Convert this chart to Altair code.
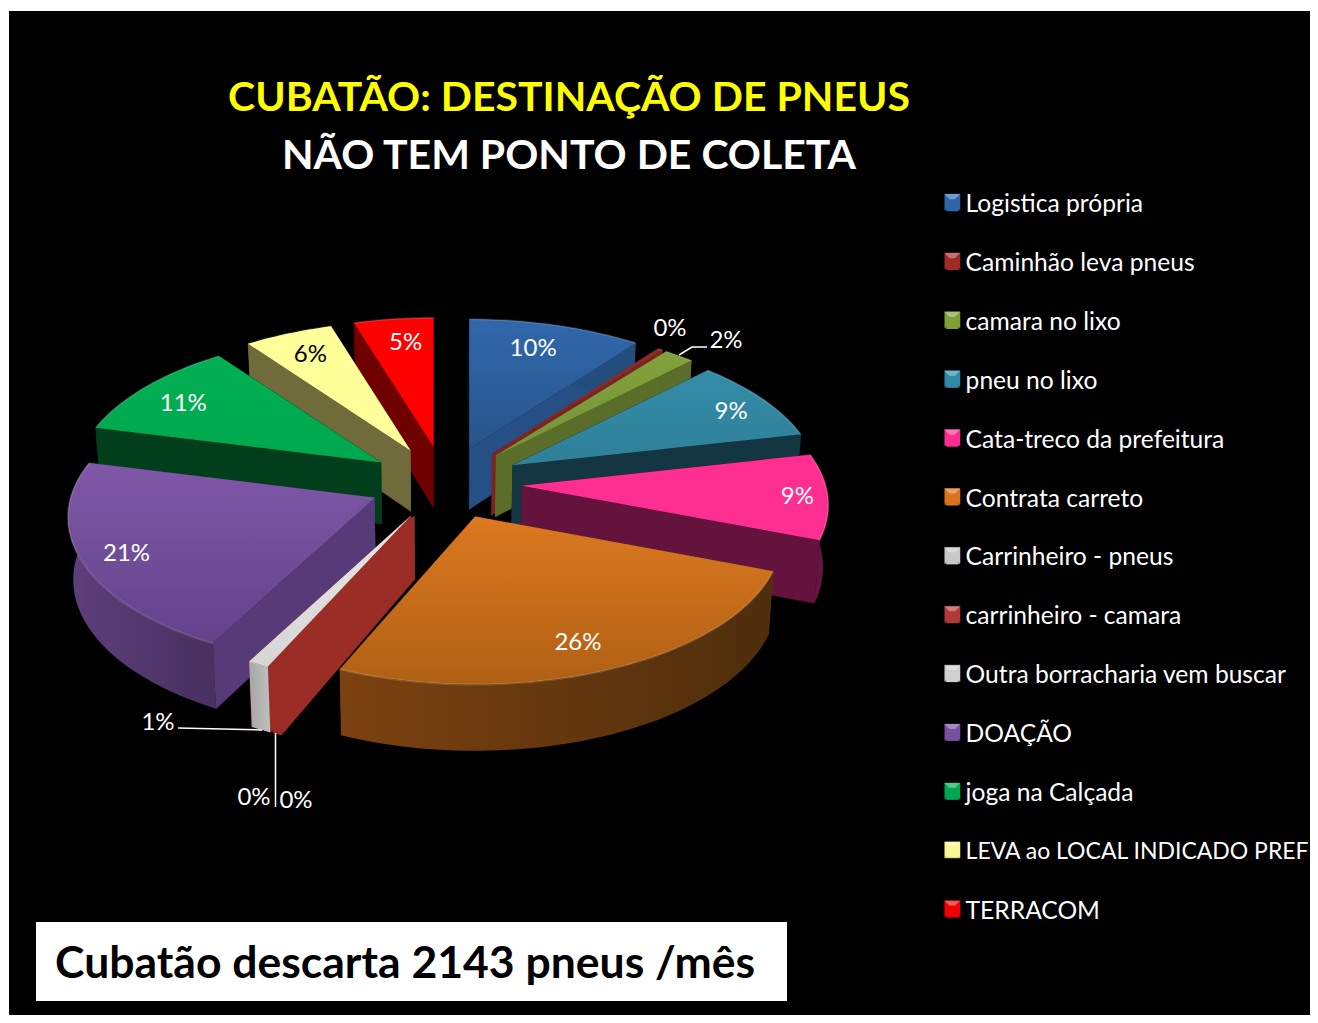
import math
import altair as alt
import pandas as pd

# ---- chart values ----
NAMES = ["Logistica própria", "Caminhão leva pneus", "camara no lixo", "pneu no lixo",
         "Cata-treco da prefeitura", "Contrata carreto", "Carrinheiro - pneus",
         "carrinheiro - camara", "Outra borracharia vem buscar", "DOAÇÃO",
         "joga na Calçada", "LEVA ao LOCAL INDICADO PREF", "TERRACOM"]
VALUES = [10.3, 0.3, 1.8, 9.1, 9.3, 25.6, 0.2, 0.2, 1.0, 21.15, 11.0, 5.3, 4.75]
LEGEND_COLORS = ["#2f65a8", "#a02b28", "#7f9f38", "#2f8aa6", "#f92f90", "#d9741e", "#c8c8c8",
                 "#b03a36", "#d0d0d0", "#7750a0", "#00a84f", "#f8f894", "#f00000"]
TOP_A = ["#3068ac", "#8c2a26", "#82a13a", "#338ca8", "#ff2f92", "#dc7820", "#e0e0e0",
         "#e0e0e0", "#e6e6e6", "#7f58a8", "#00b052", "#ffff99", "#ff0000"]
TOP_B = ["#28548a", "#8c2a26", "#76943a", "#2f8098", "#ff2f92", "#b06014", "#d0d0d0",
         "#d0d0d0", "#d6d6d6", "#62438a", "#00a84e", "#ffff99", "#ff0000"]
WALL_A = ["#234d7d", "#7a2421", "#5a6e2a", "#133642", "#63133c", "#6b3a10", "#9b2d27",
          "#9b2d27", "#9b2d27", "#573b78", "#003e1c", "#6f6b3b", "#6f0000"]
WALL_B = ["#264f85", "#7a2421", "#5a6e2a", "#133642", "#63133c", "#6b3a10", "#9b2d27",
          "#9b2d27", "#9b2d27", "#573b78", "#003e1c", "#6f6b3b", "#6f0000"]
RIM_A = ["#234d7d", "#7a2421", "#5a6e2a", "#133642", "#7a1648", "#7c4110", "#9b2d27",
         "#9b2d27", "#a6a6a6", "#5d3f7c", "#003e1c", "#6f6b3b", "#6f0000"]
RIM_B = ["#234d7d", "#7a2421", "#5a6e2a", "#133642", "#5a1238", "#4e2e0c", "#9b2d27",
         "#9b2d27", "#c0c0c0", "#48305f", "#003e1c", "#6f6b3b", "#6f0000"]
DRAW_ORDER = [12, 0, 1, 2, 11, 3, 10, 4, 9, 5, 6, 7, 8]

LABELS = ["10%", "9%", "9%", "26%", "21%", "11%", "6%", "5%"]
LABEL_SLICE = [0, 3, 4, 5, 9, 10, 11, 12]
LABEL_FX = [0.74, 0.875, 0.90, 0.76, 0.845, 0.843, 0.82, 0.70]
LABEL_FY = [0.81, 0.80, 1.10, 0.83, 0.91, 0.77, 0.82, 0.81]
LABEL_COLOR = ["white", "white", "white", "white", "white", "white", "black", "white"]

OUTER_TEXT = ["0%", "2%", "1%", "0%", "0%"]
OUTER_X = [670, 726, 158, 254, 296]
OUTER_Y = [329, 341, 723, 798, 801]

LEADERS = [[(679, 355), (692, 347), (707, 347)], [(178, 728), (262, 730)], [(275.5, 733), (275.5, 807)]]

FONT = "Lato"
CX, CY, RX, RY, KP, EXPL = 445, 483, 304, 146, 0.131, 0.25

x_scale = alt.Scale(domain=[9, 1310], nice=False, zero=False)
y_scale = alt.Scale(domain=[1015, 11], nice=False, zero=False)
X = lambda f="x": alt.X(f"{f}:Q", scale=x_scale, axis=None)
Y = lambda f="y": alt.Y(f"{f}:Q", scale=y_scale, axis=None)


def rim_pt(ax, ay, deg, frac=1.0):
    t = math.radians(deg)
    s = 1 / (1 + KP * math.cos(t))
    return ax + frac * RX * math.sin(t) * s, ay - frac * RY * math.cos(t) * s


def down(p):
    x, y = p
    h = 61 + (y - 448) * 0.022
    return x + (CX - x) * 0.014, y + h


def grad(a, b, horizontal=False):
    return {"gradient": "linear", "x1": 0, "y1": 0, "x2": 1 if horizontal else 0, "y2": 0 if horizontal else 1,
            "stops": [{"offset": 0, "color": a}, {"offset": 1, "color": b}]}


def polygon(points, fill, alpha=None):
    df = pd.DataFrame({"x": [p[0] for p in points], "y": [p[1] for p in points], "i": range(len(points))})
    if alpha is not None:
        mark = alt.Chart(df).mark_line(filled=True, fill=fill, fillOpacity=alpha, strokeWidth=0)
    elif isinstance(fill, str):
        mark = alt.Chart(df).mark_line(filled=True, fill=fill, stroke=fill, strokeWidth=0.5)
    else:
        mark = alt.Chart(df).mark_line(filled=True, fill=fill, strokeWidth=0)
    return mark.encode(x=X(), y=Y(), order="i:Q")


total = sum(VALUES)
starts = [sum(VALUES[:i]) / total * 360 for i in range(len(VALUES))]
ends = [sum(VALUES[:i + 1]) / total * 360 for i in range(len(VALUES))]
apexes = []
for a, b in zip(starts, ends):
    m = math.radians((a + b) / 2)
    apexes.append((CX + EXPL * 308 * math.sin(m), CY - EXPL * RY * math.cos(m)))

layers = []
for k in DRAW_ORDER:
    ax, ay = apexes[k]
    a, b = starts[k], ends[k]
    n = max(2, int((b - a) / 1.5) + 1)
    arc = [rim_pt(ax, ay, a + (b - a) * j / (n - 1)) for j in range(n)]
    apex = (ax, ay)
    layers.append(polygon([apex, arc[0], down(arc[0]), down(apex)], WALL_A[k]))
    layers.append(polygon([apex, arc[-1], down(arc[-1]), down(apex)], WALL_B[k]))
    layers.append(polygon(arc + [down(p) for p in reversed(arc)], grad(RIM_A[k], RIM_B[k], True)))
    layers.append(polygon([apex] + arc, grad(TOP_A[k], TOP_B[k])))
    rim_df = pd.DataFrame({"x": [p[0] for p in arc], "y": [p[1] for p in arc], "i": range(len(arc))})
    layers.append(alt.Chart(rim_df).mark_line(stroke="white", strokeOpacity=0.14, strokeWidth=2).encode(
        x=X(), y=Y(), order="i:Q"))

# value labels inside the slices
rows = []
for t, k, fx, fy, c in zip(LABELS, LABEL_SLICE, LABEL_FX, LABEL_FY, LABEL_COLOR):
    ax, ay = apexes[k]
    m = math.radians((starts[k] + ends[k]) / 2)
    s = 1 / (1 + KP * math.cos(m))
    rows.append({"t": t, "x": ax + fx * RX * math.sin(m) * s, "y": ay - fy * RY * math.cos(m) * s, "c": c})
for t, x, y in zip(OUTER_TEXT, OUTER_X, OUTER_Y):
    rows.append({"t": t, "x": x, "y": y, "c": "white"})
layers.append(alt.Chart(pd.DataFrame(rows)).mark_text(font=FONT, fontSize=24, baseline="middle", align="center").encode(
    x=X(), y=Y(), text="t:N", color=alt.Color("c:N", scale=None)))

for pts in LEADERS:
    df = pd.DataFrame({"x": [p[0] for p in pts], "y": [p[1] for p in pts], "i": range(len(pts))})
    layers.append(alt.Chart(df).mark_line(stroke="white", strokeWidth=1.5).encode(x=X(), y=Y(), order="i:Q"))

# titles and note box
title_df = pd.DataFrame({"t": ["CUBATÃO: DESTINAÇÃO DE PNEUS", "NÃO TEM PONTO DE COLETA"],
                         "x": [569, 569], "y": [99, 157], "c": ["#ffff00", "white"]})
layers.append(alt.Chart(title_df).mark_text(font=FONT, fontSize=41, fontWeight="bold", baseline="middle", align="center").encode(
    x=X(), y=Y(), text="t:N", color=alt.Color("c:N", scale=None)))
box_df = pd.DataFrame({"x": [36], "x2": [787], "y": [922], "y2": [1001]})
layers.append(alt.Chart(box_df).mark_rect(color="white").encode(x=X(), x2="x2:Q", y=Y(), y2="y2:Q"))
note_df = pd.DataFrame({"t": ["Cubatão descarta 2143 pneus /mês"], "x": [55], "y": [965]})
layers.append(alt.Chart(note_df).mark_text(font=FONT, fontSize=44.5, fontWeight="bold", color="black", baseline="middle", align="left").encode(
    x=X(), y=Y(), text="t:N"))

# legend
legend_df = pd.DataFrame({"name": NAMES, "x": [700] * len(NAMES), "y": [500] * len(NAMES)})
layers.append(alt.Chart(legend_df).mark_square(size=0, opacity=1).encode(
    x=X(), y=Y(),
    color=alt.Color("name:N", sort=NAMES, scale=alt.Scale(domain=NAMES, range=LEGEND_COLORS),
                    legend=alt.Legend(title=None, orient="none", legendX=931, legendY=182, symbolType="square",
                                      symbolSize=144, symbolStrokeWidth=0, symbolOpacity=1, labelColor="white",
                                      labelFont=FONT,
                                      labelFontSize=alt.expr("datum.value === 'LEVA ao LOCAL INDICADO PREF' ? 23 : 24.6"),
                                      labelLimit=400, rowPadding=33.85, labelOffset=1, columns=1))))

# bevelled legend swatches
for i, col in enumerate(LEGEND_COLORS):
    cy = 202 + 58.9 * i
    l, r, t, b, mx = 944.5, 960, cy - 8, cy + 8, 952.25
    layers.append(polygon([(l, t), (r, t), (r, b), (l, b)], col))
    layers.append(polygon([(l, t), (r, t), (mx, cy)], "white", 0.35))
    layers.append(polygon([(l, b), (r, b), (mx, cy)], "black", 0.28))

chart = alt.layer(*layers).properties(
    width=1301, height=1004, background="white",
    padding={"left": 1, "top": 3, "right": 0, "bottom": 0},
    autosize=alt.AutoSizeParams(type="none"),
).configure_view(fill="black", strokeWidth=0)

chart.save("out.html", embed_options={"renderer": "svg", "actions": False})
